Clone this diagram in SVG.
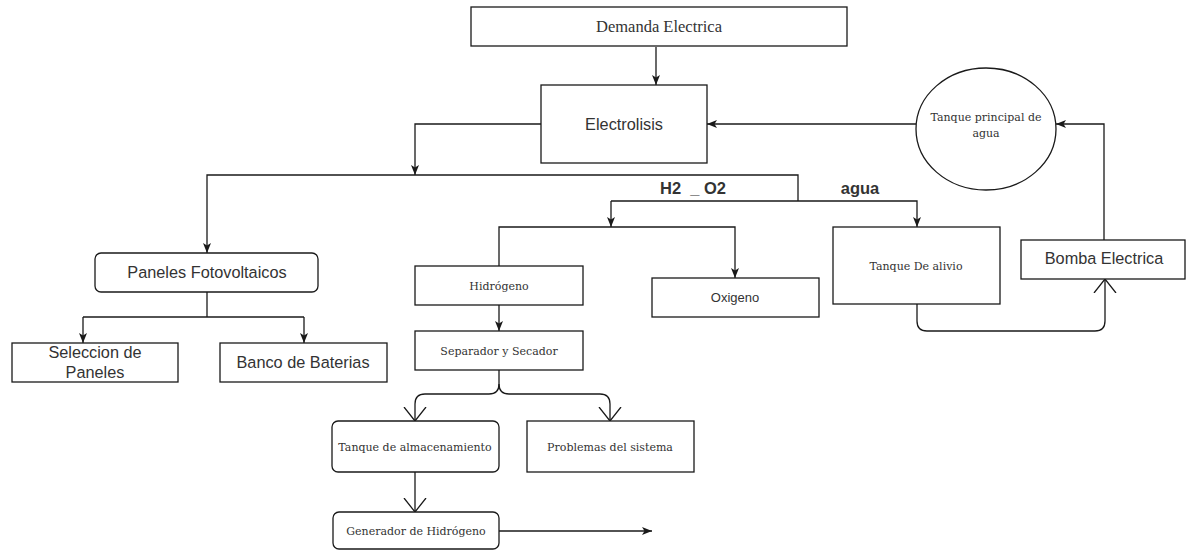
<svg xmlns="http://www.w3.org/2000/svg" width="1189" height="550" viewBox="0 0 1189 550">
  <style>
    .box { fill: #ffffff; stroke: #1a1a1a; stroke-width: 1.3; }
    .wire { fill: none; stroke: #1a1a1a; stroke-width: 1.3; }
    .serif { font-family: "DejaVu Serif", "Liberation Serif", serif; font-size: 11px; fill: #333; text-anchor: middle; }
    .big-serif { font-family: "Liberation Serif", "Times New Roman", serif; font-size: 16.5px; fill: #333; text-anchor: middle; }
    .sans { font-family: "Liberation Sans", Arial, sans-serif; font-size: 16.3px; fill: #333; text-anchor: middle; }
    .small-sans { font-family: "Liberation Sans", Arial, sans-serif; font-size: 13px; fill: #333; text-anchor: middle; }
    .label { font-family: "Liberation Sans", Arial, sans-serif; font-size: 16.5px; font-weight: bold; fill: #333; text-anchor: middle; white-space: pre; }
  </style>
  <defs>
    <marker id="arrow" viewBox="0 0 10 10" refX="10" refY="5" markerWidth="10" markerHeight="10" markerUnits="userSpaceOnUse" orient="auto">
      <path d="M0,1 L10,5 L0,9 L2.5,5 Z" fill="#1a1a1a"/>
    </marker>
    <marker id="open" viewBox="0 0 14 24" refX="14" refY="12" markerWidth="14" markerHeight="24" markerUnits="userSpaceOnUse" orient="auto">
      <path d="M0,1 L14,12 L0,23" fill="none" stroke="#1a1a1a" stroke-width="1.3"/>
    </marker>
  </defs>

  <g id="connectors">
    <path class="wire" d="M656,47 V85" marker-end="url(#arrow)"/>
    <path class="wire" d="M541,124 H415 V175" marker-end="url(#arrow)"/>
    <path class="wire" d="M798,201 V175 H207 V253" marker-end="url(#arrow)"/>
    <path class="wire" d="M611,201 H917 V227" marker-end="url(#arrow)"/>
    <path class="wire" d="M611,201 V227" marker-end="url(#arrow)"/>
    <path class="wire" d="M499,266 V227 H735 V278" marker-end="url(#arrow)"/>
    <path class="wire" d="M499,305 V331" marker-end="url(#arrow)"/>
    <path class="wire" d="M207,292 V317"/>
    <path class="wire" d="M83,317 H304"/>
    <path class="wire" d="M83,317 V343" marker-end="url(#arrow)"/>
    <path class="wire" d="M304,317 V343" marker-end="url(#arrow)"/>
    <path class="wire" d="M916,124 H707" marker-end="url(#arrow)"/>
    <path class="wire" d="M1104,240 V124 H1056" marker-end="url(#arrow)"/>
    <path class="wire" d="M917,304 V321 Q917,331 927,331 H1095 Q1105,331 1105,321 V279" marker-end="url(#open)"/>
    <path class="wire" d="M499,370 V384 Q499,394 489,394 H425 Q415,394 415,404 V421" marker-end="url(#open)"/>
    <path class="wire" d="M499,384 Q499,394 509,394 H600 Q610,394 610,404 V421" marker-end="url(#open)"/>
    <path class="wire" d="M415,472 V512" marker-end="url(#open)"/>
    <path class="wire" d="M499,531 H652" marker-end="url(#arrow)"/>
    <text class="label" x="693" y="194">H2  _ O2</text>
    <text class="label" x="860" y="194">agua</text>
  </g>

  <g id="demanda-electrica">
    <rect class="box" x="471" y="7" width="376" height="39"/>
    <text class="big-serif" x="659" y="32">Demanda Electrica</text>
  </g>
  <g id="electrolisis">
    <rect class="box" x="541" y="85" width="166" height="78"/>
    <text class="sans" x="624" y="130">Electrolisis</text>
  </g>
  <g id="tanque-principal">
    <ellipse class="box" cx="986" cy="129" rx="70" ry="61"/>
    <text class="serif" x="986" y="121">Tanque principal de</text>
    <text class="serif" x="986" y="137">agua</text>
  </g>
  <g id="paneles-fotovoltaicos">
    <rect class="box" x="95" y="253" width="223" height="39" rx="6"/>
    <text class="sans" x="207" y="278">Paneles Fotovoltaicos</text>
  </g>
  <g id="seleccion-paneles">
    <rect class="box" x="12" y="343" width="166" height="39"/>
    <text class="sans" x="95" y="358">Seleccion de</text>
    <text class="sans" x="95" y="378">Paneles</text>
  </g>
  <g id="banco-baterias">
    <rect class="box" x="220" y="343" width="167" height="39"/>
    <text class="sans" x="303" y="368">Banco de Baterias</text>
  </g>
  <g id="hidrogeno">
    <rect class="box" x="415" y="266" width="168" height="39"/>
    <text class="serif" x="499" y="290">Hidrógeno</text>
  </g>
  <g id="oxigeno">
    <rect class="box" x="652" y="278" width="167" height="39"/>
    <text class="small-sans" x="735" y="302">Oxigeno</text>
  </g>
  <g id="separador-secador">
    <rect class="box" x="415" y="331" width="168" height="39"/>
    <text class="serif" x="499" y="355">Separador y Secador</text>
  </g>
  <g id="tanque-alivio">
    <rect class="box" x="833" y="227" width="167" height="77"/>
    <text class="serif" x="916" y="270">Tanque De alivio</text>
  </g>
  <g id="bomba-electrica">
    <rect class="box" x="1021" y="240" width="164" height="39"/>
    <text class="sans" x="1104" y="264">Bomba Electrica</text>
  </g>
  <g id="tanque-almacenamiento">
    <rect class="box" x="332" y="421" width="167" height="51" rx="6"/>
    <text class="serif" x="415" y="451">Tanque de almacenamiento</text>
  </g>
  <g id="problemas-sistema">
    <rect class="box" x="527" y="421" width="167" height="51"/>
    <text class="serif" x="610" y="451">Problemas del sistema</text>
  </g>
  <g id="generador-hidrogeno">
    <rect class="box" x="333" y="512" width="166" height="37" rx="6"/>
    <text class="serif" x="416" y="535">Generador de Hidrógeno</text>
  </g>
</svg>
